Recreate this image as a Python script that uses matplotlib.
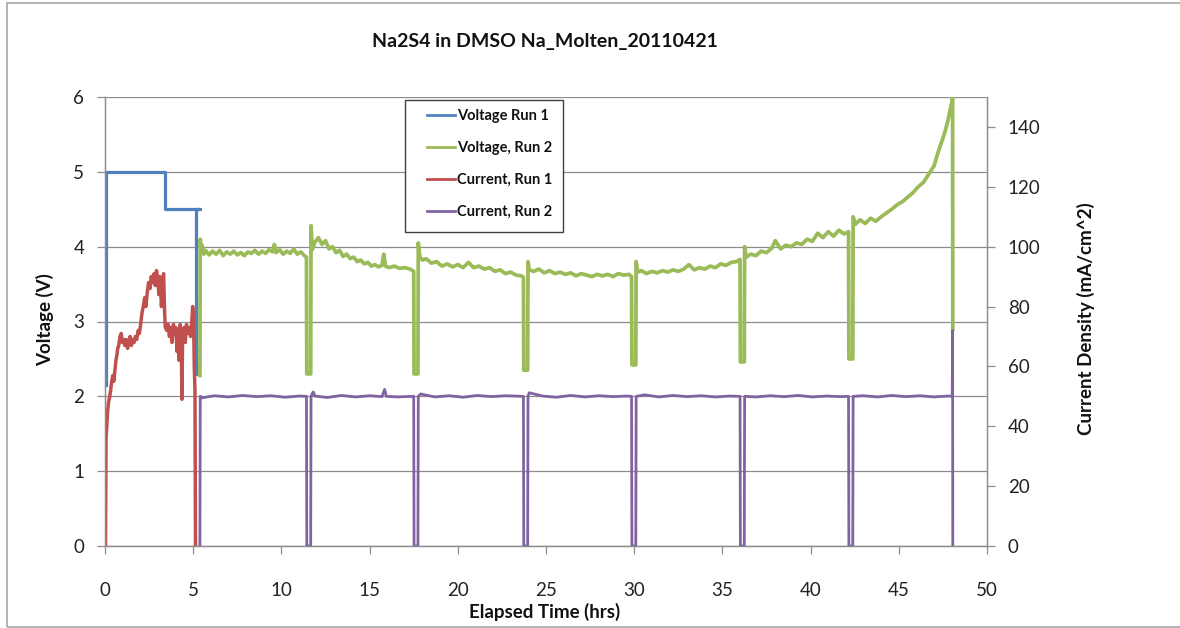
import matplotlib
matplotlib.use("Agg")
import matplotlib.pyplot as plt
from matplotlib.patches import Rectangle

plt.rcParams['font.family'] = ['Lato', 'DejaVu Sans']

# Voltage, run 1 (V)
t_volt1 = [0.06, 0.06, 3.4, 3.4, 5.38, 5.15, 5.15]
volt1 = [2.15, 5.0, 5.0, 4.5, 4.5, 4.5, 2.3]

# Voltage, run 2 (V) - one line per interval between interruptions
t_volt2 = [5.38, 5.4, 5.45, 5.5, 5.6, 5.7, 5.9, 6.1, 6.3, 6.5, 6.7, 6.9, 7.1, 7.3, 7.5, 7.7, 7.9, 8.1, 8.3, 8.5, 8.7, 8.9, 9.1, 9.3, 9.5, 9.6, 9.7, 9.9, 10.1, 10.3, 10.5, 10.7, 10.9, 11.1, 11.3, 11.42,
           11.44, 11.66, 11.68, 11.75, 11.9, 12.1, 12.3, 12.5, 12.7, 12.9, 13.1, 13.3, 13.5, 13.7, 13.9, 14.1, 14.3, 14.5, 14.7, 14.9, 15.1, 15.3, 15.5, 15.7, 15.8, 15.9, 16.1, 16.4, 16.7, 17.0, 17.3, 17.5,
           17.52, 17.74, 17.76, 17.85, 18.0, 18.2, 18.5, 18.8, 19.1, 19.4, 19.7, 20.0, 20.3, 20.6, 20.9, 21.2, 21.5, 21.8, 22.1, 22.4, 22.7, 23.0, 23.3, 23.6, 23.72,
           23.74, 23.96, 23.98, 24.05, 24.3, 24.6, 24.9, 25.2, 25.5, 25.8, 26.1, 26.4, 26.7, 27.0, 27.3, 27.6, 27.9, 28.2, 28.5, 28.8, 29.1, 29.4, 29.7, 29.85,
           29.87, 30.09, 30.11, 30.2, 30.4, 30.7, 31.0, 31.3, 31.6, 31.9, 32.2, 32.5, 32.8, 33.1, 33.4, 33.7, 34.0, 34.3, 34.6, 34.9, 35.2, 35.5, 35.8, 36.0,
           36.02, 36.24, 36.26, 36.35, 36.6, 36.9, 37.2, 37.5, 37.8, 38.0, 38.3, 38.6, 38.9, 39.2, 39.5, 39.8, 40.1, 40.4, 40.7, 41.0, 41.3, 41.6, 41.9, 42.15,
           42.17, 42.39, 42.41, 42.55, 42.8, 43.1, 43.4, 43.7, 44.0, 44.3, 44.6, 44.9, 45.2, 45.5, 45.8, 46.1, 46.4, 46.7, 47.0, 47.2, 47.4, 47.6, 47.8, 47.95, 48.03, 48.05, 48.06]
volt2 = [2.28, 4.1, 3.93, 4.02, 3.9, 3.95, 3.89, 3.94, 3.9, 3.95, 3.88, 3.93, 3.9, 3.94, 3.89, 3.92, 3.88, 3.93, 3.91, 3.95, 3.9, 3.94, 3.91, 3.96, 3.93, 4.03, 3.92, 3.96, 3.9, 3.94, 3.91, 3.97, 3.9, 3.93, 3.88, 3.86,
         2.3, 2.3, 4.28, 3.96, 4.06, 4.12, 4.03, 4.08, 3.97, 4.0, 3.92, 3.95, 3.87, 3.9, 3.84, 3.86, 3.8, 3.82, 3.77, 3.79, 3.74, 3.76, 3.73, 3.75, 3.9, 3.74, 3.72, 3.74, 3.71, 3.72, 3.7, 3.67,
         2.3, 2.3, 4.05, 3.86, 3.82, 3.84, 3.78, 3.8, 3.74, 3.77, 3.73, 3.76, 3.72, 3.79, 3.72, 3.74, 3.7, 3.72, 3.67, 3.69, 3.64, 3.66, 3.62, 3.61, 3.59,
         2.35, 2.35, 3.8, 3.69, 3.67, 3.7, 3.65, 3.68, 3.64, 3.66, 3.63, 3.65, 3.61, 3.64, 3.62, 3.6, 3.63, 3.61, 3.63, 3.6, 3.64, 3.62, 3.63, 3.6,
         2.42, 2.42, 3.8, 3.66, 3.68, 3.64, 3.67, 3.65, 3.68, 3.66, 3.69, 3.67, 3.7, 3.76, 3.69, 3.72, 3.7, 3.74, 3.72, 3.77, 3.75, 3.79, 3.8, 3.83,
         2.46, 2.46, 4.0, 3.86, 3.9, 3.88, 3.94, 3.92, 3.98, 4.08, 3.97, 4.02, 4.0, 4.05, 4.03, 4.1, 4.07, 4.18, 4.12, 4.2, 4.14, 4.22, 4.17, 4.2,
         2.5, 2.5, 4.4, 4.3, 4.36, 4.31, 4.38, 4.34, 4.4, 4.45, 4.5, 4.56, 4.6, 4.66, 4.72, 4.8, 4.86, 4.97, 5.08, 5.24, 5.38, 5.52, 5.7, 5.87, 5.95, 6.5, 2.89]

# Current density, run 1 (mA/cm^2)
t_curr1 = [0.03, 0.06, 0.1, 0.15, 0.2, 0.27, 0.32, 0.38, 0.45, 0.5, 0.55, 0.62, 0.68, 0.72, 0.78, 0.85, 0.92, 0.98, 1.05, 1.12, 1.2, 1.28, 1.35, 1.42, 1.5, 1.58, 1.65, 1.72, 1.8, 1.88, 1.95,
           2.02, 2.1, 2.17, 2.25, 2.32, 2.4, 2.47, 2.55, 2.62, 2.7, 2.78, 2.85, 2.92, 3.0, 3.05, 3.1, 3.15, 3.2, 3.26, 3.32, 3.38, 3.42, 3.5, 3.58, 3.65, 3.72, 3.8, 3.88, 3.95,
           4.02, 4.08, 4.14, 4.2, 4.26, 4.32, 4.36, 4.4, 4.48, 4.55, 4.62, 4.7, 4.78, 4.85, 4.92, 4.97, 5.02, 5.06, 5.1, 5.13]
curr1 = [0, 36, 40, 45, 48, 50, 52, 55, 57, 55, 58, 62, 64, 66, 67, 70, 71, 68, 69, 67, 69, 66, 68, 70, 67, 69, 68, 70, 69, 72, 71,
         74, 78, 80, 83, 80, 85, 88, 86, 90, 88, 91, 87, 92, 89, 84, 90, 86, 80, 86, 91, 78, 73, 72, 74, 70, 73, 68, 74, 71,
         73, 65, 72, 62, 74, 70, 49, 70, 73, 68, 74, 71, 73, 70, 75, 80, 76, 60, 52, 0]

# Current density, run 2 (mA/cm^2)
t_curr2 = [5.38, 5.4, 5.5, 6.2, 7.0, 7.8, 8.6, 9.4, 10.2, 11.0, 11.42,
           11.44, 11.66, 11.68, 11.8, 11.9, 12.6, 13.4, 14.2, 15.0, 15.7, 15.85, 15.95, 16.6, 17.5,
           17.52, 17.74, 17.76, 17.9, 18.7, 19.5, 20.3, 21.1, 21.9, 22.7, 23.72,
           23.74, 23.96, 23.98, 24.05, 24.8, 25.6, 26.4, 27.2, 28.0, 28.8, 29.6, 29.85,
           29.87, 30.09, 30.11, 30.6, 31.4, 32.2, 33.0, 33.8, 34.6, 35.4, 36.0,
           36.02, 36.24, 36.26, 36.9, 37.7, 38.5, 39.3, 40.1, 40.9, 41.7, 42.15,
           42.17, 42.39, 42.41, 43.0, 43.8, 44.6, 45.4, 46.2, 47.0, 47.8, 48.03, 48.05, 48.06]
curr2 = [0, 50, 49.5, 50.2, 49.8, 50.3, 49.9, 50.2, 49.7, 50.1, 50,
         0, 0, 50, 51.5, 50.1, 49.6, 50.3, 49.8, 50.2, 49.9, 52.3, 50, 49.8, 50,
         0, 0, 50, 50.8, 49.8, 50.2, 49.7, 50.3, 49.9, 50.2, 50,
         0, 0, 50, 51.2, 50.1, 49.7, 50.3, 49.8, 50.2, 49.9, 50.1, 50,
         0, 0, 50, 50.5, 49.8, 50.3, 49.9, 50.2, 49.8, 50.1, 50,
         0, 0, 50, 49.8, 50.2, 49.9, 50.3, 49.8, 50.1, 49.9, 50,
         0, 0, 50, 50.2, 49.8, 50.3, 49.9, 50.2, 49.8, 50.1, 50, 72, 0]

volt_ticks = [0, 1, 2, 3, 4, 5, 6]
curr_ticks = [0, 20, 40, 60, 80, 100, 120, 140]
time_ticks = [0, 5, 10, 15, 20, 25, 30, 35, 40, 45, 50]

W, H = 1180, 628
fig = plt.figure(figsize=(W / 100, H / 100), dpi=100)
ax = fig.add_axes([105 / W, 1 - 546 / H, 882 / W, 449 / H])
ax2 = ax.twinx()

grey = '#8c8c8c'
blue, green, red, purple = '#4f81bd', '#9bbb59', '#c0504d', '#8064a2'

l1, = ax.plot(t_volt1, volt1, color=blue, lw=2.3, label='Voltage Run 1')
l2, = ax.plot(t_volt2, volt2, color=green, lw=2.7, label='Voltage, Run 2')
l3, = ax2.plot(t_curr1, curr1, color=red, lw=2.5, label='Current, Run 1')
l4, = ax2.plot(t_curr2, curr2, color=purple, lw=2.0, label='Current, Run 2')

ax.set_xlim(0, 50)
ax.set_ylim(0, 6)
ax2.set_ylim(0, 150)
ax.set_xticks(time_ticks)
ax.set_yticks(volt_ticks)
ax2.set_yticks(curr_ticks)

ax.grid(axis='y', color=grey, lw=0.9)
ax.set_axisbelow(True)
for a in (ax, ax2):
    a.spines['top'].set_visible(False)
    for s in ('left', 'right', 'bottom'):
        a.spines[s].set_color(grey)
        a.spines[s].set_linewidth(0.9)
ax.tick_params(axis='both', colors=grey, labelcolor='#222222', labelsize=13.5, length=6, width=0.9, direction='out')
ax.tick_params(axis='x', pad=20)
ax.tick_params(axis='y', pad=9)
ax2.tick_params(axis='y', colors=grey, labelcolor='#222222', labelsize=13.5, length=6, width=0.9, pad=9)

fig.text(545 / W, 1 - 42 / H, 'Na2S4 in DMSO Na_Molten_20110421', ha='center', va='center',
         fontsize=14, fontweight='bold', color='#111111')
fig.text(545 / W, 1 - 612 / H, 'Elapsed Time (hrs)', ha='center', va='center',
         fontsize=13.5, fontweight='bold', color='#111111')
fig.text(45 / W, 1 - 320 / H, 'Voltage (V)', ha='center', va='center', rotation=90,
         fontsize=13.5, fontweight='bold', color='#111111')
fig.text(1086 / W, 1 - 319 / H, 'Current Density (mA/cm^2)', ha='center', va='center', rotation=90,
         fontsize=13.5, fontweight='bold', color='#111111')

# legend box drawn separately so the padding can differ per side
box = Rectangle((405 / W, 1 - 232 / H), 158 / W, 132 / H, transform=fig.transFigure,
                facecolor='white', edgecolor='#404040', lw=1.0, zorder=5)
fig.patches.append(box)
leg = fig.legend(handles=[l1, l2, l3, l4], loc='upper left', bbox_to_anchor=(427 / W, 1 - 109 / H),
                 frameon=False, borderpad=0, borderaxespad=0, handlelength=1.95, handletextpad=0.1,
                 labelspacing=1.23, prop={'size': 10.5, 'weight': 'bold'})
leg.set_zorder(6)
for t in leg.get_texts():
    t.set_color('#111111')
for h in leg.get_lines():
    h.set_linewidth(2.0)

# outer chart border
fig.patches.append(Rectangle((7 / W, 1 / H), 1.0, 1 - 4 / H, transform=fig.transFigure,
                             facecolor='none', edgecolor='#a6a6a6', lw=1.2, zorder=0))

fig.savefig('out.png', dpi=100)
